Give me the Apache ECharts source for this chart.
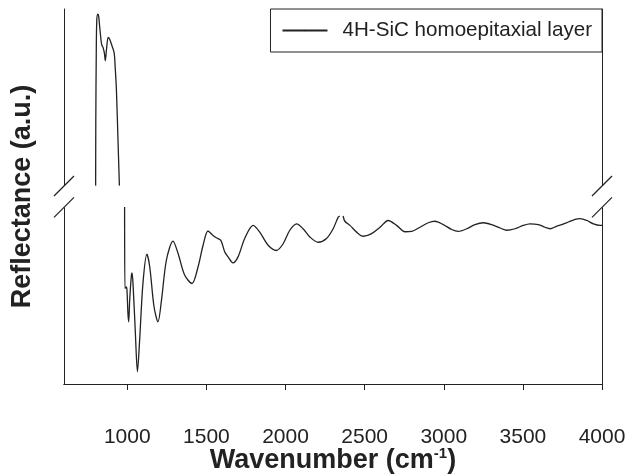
<!DOCTYPE html>
<html>
<head>
<meta charset="utf-8">
<script src="https://cdn.jsdelivr.net/npm/echarts@6/dist/echarts.min.js"></script>
<style>
html,body{margin:0;padding:0;background:#fff;}
#main{width:629px;height:476px;}
</style>
</head>
<body>
<div id="main"></div>
<script>
// x tick labels
var wavenumberTicks = [1000, 1500, 2000, 2500, 3000, 3500, 4000];
// upper part of the spectrum (above the axis break)
var upperWave = [800, 801, 804, 807, 813, 819, 825, 836, 841, 847, 855, 861, 869, 879, 888, 903, 917, 923, 931, 941, 950];
var upperRefl = [52.9, 70.2, 88.8, 96.8, 98.6, 98.1, 95.5, 91.0, 90.2, 89.7, 88.3, 86.2, 89.4, 92.4, 92.0, 90.2, 88.3, 84.8, 78.7, 65.4, 52.9];
// lower part (below the break), '-' = small gap in the trace
var lowerWave = [983, 985, 994, 998, 1004, 1009, 1015, 1026, 1030, 1036, 1051, 1064, 1078, 1099, 1124, 1142, 1169, 1194, 1216, 1247, 1289, 1321, 1363, 1409, 1447, 1479, 1510, 1542, 1563, 1591, 1616, 1637, 1668, 1700, 1742, 1795, 1837, 1890, 1943, 1985, 2027, 2070, 2111, 2154, 2206, 2259, 2301, 2333, 2343, 2353, 2364, 2375, 2407, 2449, 2491, 2544, 2597, 2649, 2702, 2755, 2797, 2850, 2902, 2944, 2997, 3050, 3092, 3145, 3197, 3250, 3303, 3356, 3398, 3450, 3503, 3545, 3598, 3640, 3672, 3714, 3746, 3788, 3830, 3862, 3904, 3946, 3988, 4000];
var lowerRefl = [47.2, 25.5, 25.9, 25.0, 18.9, 16.6, 22.3, 29.0, 29.6, 26.9, 13.6, 3.3, 11.7, 26.9, 34.6, 31.2, 20.6, 16.6, 22.3, 33.0, 38.1, 34.8, 29.0, 26.8, 31.2, 37.0, 40.8, 39.6, 39.0, 38.3, 35.2, 33.9, 32.3, 33.9, 38.8, 42.3, 40.5, 37.0, 35.6, 37.4, 41.0, 42.7, 41.4, 39.2, 37.8, 38.8, 41.4, 44.5, 44.8, '-', 44.8, 43.4, 42.3, 40.5, 39.4, 40.1, 41.8, 43.6, 42.3, 40.6, 40.7, 41.8, 43.0, 43.4, 42.5, 41.2, 40.7, 41.4, 42.5, 43.0, 42.5, 41.6, 41.0, 41.4, 42.3, 42.7, 42.5, 41.8, 41.4, 42.1, 42.5, 43.2, 43.9, 44.1, 43.6, 42.7, 42.3, 42.3];
// y-axis break (arbitrary units)
var breakLow = 47.1, breakHigh = 52.8;

var lineColor = '#222';
var fontFam = '"Liberation Sans", Arial, sans-serif';

var seriesData = [];
upperWave.forEach(function (w, i) { seriesData.push([w, upperRefl[i]]); });
seriesData.push([966, '-']);
lowerWave.forEach(function (w, i) { seriesData.push([w, lowerRefl[i]]); });

var myChart = echarts.init(document.getElementById('main'), null, { renderer: 'canvas' });

var option = {
    backgroundColor: '#fff',
    animation: false,
    grid: { left: 64, right: 27, top: 9, bottom: 92, show: false, outerBoundsMode: 'none', containLabel: false },
    legend: {
        data: ['4H-SiC homoepitaxial layer'],
        right: 27, top: 9,
        padding: [11, 10, 11, 11],
        itemWidth: 45, itemHeight: 2,
        borderColor: lineColor, borderWidth: 1, borderRadius: 0,
        backgroundColor: '#fff',
        textStyle: { fontFamily: fontFam, fontSize: 20.6, color: '#222', padding: [0, 0, 0, 10] }
    },
    xAxis: [
        {
            type: 'value', min: 600, max: 4000,
            splitLine: { show: false },
            axisLine: { lineStyle: { color: lineColor, width: 1 } },
            axisTick: { inside: false, length: 6, lineStyle: { color: lineColor }, customValues: wavenumberTicks },
            axisLabel: {
                customValues: wavenumberTicks, fontFamily: fontFam, fontSize: 21, color: '#222', margin: 43,
                formatter: function (v) { return String(v); }
            },
            name: 'Wavenumber (cm{sup|-1})',
            nameLocation: 'middle', nameGap: 62, nameMoveOverlap: false,
            nameTextStyle: {
                fontFamily: fontFam, fontSize: 27, fontWeight: 'bold', color: '#222',
                rich: { sup: { fontFamily: fontFam, fontSize: 15, fontWeight: 'bold', color: '#222', padding: [0, 0, 14, 0] } }
            }
        },
        {
            type: 'value', position: 'top', min: 600, max: 4000,
            splitLine: { show: false }, axisTick: { show: false }, axisLabel: { show: false },
            axisLine: { lineStyle: { color: lineColor, width: 1 } }
        }
    ],
    yAxis: [
        {
            type: 'value', min: 0, max: 100,
            splitLine: { show: false }, axisTick: { show: false }, axisLabel: { show: false },
            axisLine: { show: true, lineStyle: { color: lineColor, width: 1 } },
            name: 'Reflectance (a.u.)', nameLocation: 'middle', nameGap: 28, nameRotate: 90,
            nameTextStyle: { fontFamily: fontFam, fontSize: 27, fontWeight: 'bold', color: '#222' }
        },
        {
            type: 'value', position: 'right', min: 0, max: 100,
            splitLine: { show: false }, axisTick: { show: false }, axisLabel: { show: false },
            axisLine: { show: true, lineStyle: { color: lineColor, width: 1 } }
        }
    ],
    series: [
        {
            name: '4H-SiC homoepitaxial layer',
            type: 'line',
            data: seriesData,
            showSymbol: false, symbol: 'none',
            smooth: 0.3,
            connectNulls: false,
            lineStyle: { color: lineColor, width: 1.3 },
            itemStyle: { color: lineColor }
        }
    ]
};
myChart.setOption(option);

// axis break marks: white out the frame between the slashes, then draw the slashes
function breakMarks() {
    var els = [];
    [600, 4000].forEach(function (xv) {
        var pHi = myChart.convertToPixel({ xAxisIndex: 0, yAxisIndex: 0 }, [xv, breakHigh]);
        var pLo = myChart.convertToPixel({ xAxisIndex: 0, yAxisIndex: 0 }, [xv, breakLow]);
        els.push({ type: 'rect', shape: { x: pHi[0] - 3, y: pHi[1], width: 6, height: pLo[1] - pHi[1] }, style: { fill: '#fff' }, z: 100 });
        [pHi, pLo].forEach(function (p) {
            els.push({ type: 'line', shape: { x1: p[0] - 10, y1: p[1] + 10, x2: p[0] + 10, y2: p[1] - 10 }, style: { stroke: lineColor, lineWidth: 1.2 }, z: 101 });
        });
    });
    myChart.setOption({ graphic: els });
}
breakMarks();
window.onresize = myChart.resize;
</script>
</body>
</html>
